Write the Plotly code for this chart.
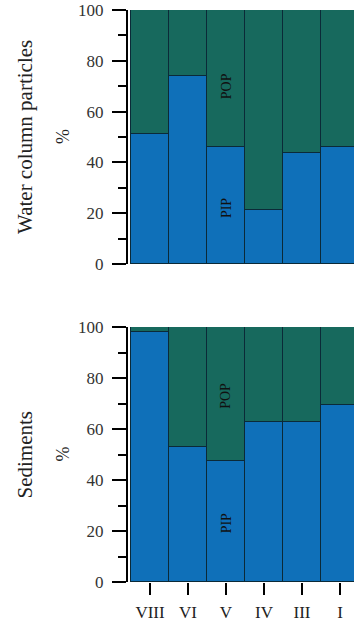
import plotly.graph_objects as go

categories = ["VIII", "VI", "V", "IV", "III", "I"]
water_pip = [51.3, 73.9, 45.9, 21.3, 43.7, 46.2]
water_pop = [100 - v for v in water_pip]
sed_pip = [97.9, 52.8, 47.6, 62.9, 62.8, 69.5]
sed_pop = [100 - v for v in sed_pip]

BLUE = "#0f70b9"
GREEN = "#17695d"
EDGE = "#0b2a38"
FONT = "Liberation Serif, Times New Roman, serif"

fig = go.Figure()
xs = list(range(len(categories)))
for yax, pip, pop in [("y", water_pip, water_pop), ("y2", sed_pip, sed_pop)]:
    xa = "x" if yax == "y" else "x2"
    fig.add_trace(go.Bar(x=xs, y=pip, marker=dict(color=BLUE, line=dict(color=EDGE, width=1.5)),
                         xaxis=xa, yaxis=yax, width=1, showlegend=False))
    fig.add_trace(go.Bar(x=xs, y=pop, marker=dict(color=GREEN, line=dict(color=EDGE, width=1.5)),
                         xaxis=xa, yaxis=yax, width=1, showlegend=False))

xr = [-0.579, 5.368]
yaxis_common = dict(range=[0, 100], dtick=20, showline=True, linecolor="black", linewidth=2,
                    ticks="outside", ticklen=14, tickwidth=2, tickcolor="black",
                    showgrid=False, zeroline=False, ticklabelstandoff=5,
                    tickfont=dict(family=FONT, size=17, color="#333"),
                    minor=dict(dtick=10, ticks="outside", ticklen=8, tickwidth=2, tickcolor="black", showgrid=False))

fig.update_layout(
    width=354, height=621,
    margin=dict(l=128, r=0, t=10, b=39),
    barmode="stack", bargap=0,
    plot_bgcolor="white", paper_bgcolor="white",
    font=dict(family=FONT, color="#222"),
    xaxis=dict(domain=[0, 1], range=xr, anchor="y", showticklabels=False, showline=False,
               showgrid=False, zeroline=False, ticks=""),
    yaxis=dict(domain=[0.556, 1], anchor="x", **yaxis_common),
    xaxis2=dict(domain=[0, 1], range=xr, anchor="y2", tickmode="array", tickvals=xs, ticktext=categories,
                showline=False, showgrid=False, zeroline=False, ticks="outside", ticklen=12, tickwidth=2,
                tickcolor="black", ticklabelstandoff=3, tickfont=dict(family=FONT, size=17, color="#222")),
    yaxis2=dict(domain=[0, 0.4458], anchor="x2", **yaxis_common),
)

def px(xpix):
    return (xpix - 128) / 226.0

annots = [
    dict(text="Water column particles", x=px(25), y=0.778, font_size=21),
    dict(text="%", x=px(63), y=0.778, font_size=18),
    dict(text="Sediments", x=px(25), y=0.2229, font_size=21),
    dict(text="%", x=px(63), y=0.2229, font_size=18),
]
for a in annots:
    fig.add_annotation(text=a["text"], xref="paper", yref="paper", x=a["x"], y=a["y"],
                       textangle=-90, showarrow=False, xanchor="center", yanchor="middle",
                       font=dict(family=FONT, size=a["font_size"], color="#222"))

for xa, ya, label, yv in [("x", "y", "POP", 70), ("x", "y", "PIP", 22), ("x2", "y2", "POP", 73), ("x2", "y2", "PIP", 23)]:
    fig.add_annotation(text=label, xref=xa, yref=ya, x=2, y=yv, textangle=-90, showarrow=False,
                       font=dict(family=FONT, size=14, color="#111"))

fig.write_html("out.html")
